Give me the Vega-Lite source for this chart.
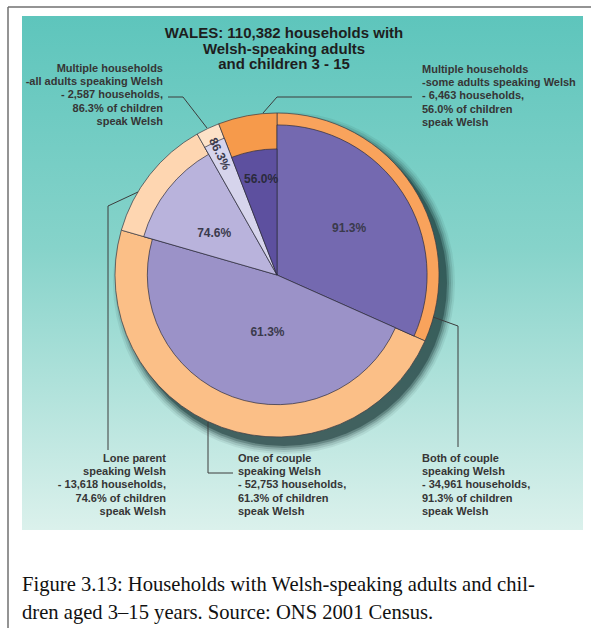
{
  "$schema": "https://vega.github.io/schema/vega-lite/v6.json",
  "width": 561,
  "height": 514,
  "autosize": {"type": "none"},
  "padding": {"left": 22, "top": 16, "right": 8, "bottom": 98},
  "background": "white",
  "datasets": {
    "slices": [
      {"idx": 1, "category": "Both of couple speaking Welsh", "households": 34961, "pct": 91.3, "label": "91.3%"},
      {"idx": 2, "category": "One of couple speaking Welsh", "households": 52753, "pct": 61.3, "label": "61.3%"},
      {"idx": 3, "category": "Lone parent speaking Welsh", "households": 13618, "pct": 74.6, "label": "74.6%"},
      {"idx": 4, "category": "Multiple households - all adults speaking Welsh", "households": 2587, "pct": 86.3, "label": "86.3%"},
      {"idx": 5, "category": "Multiple households - some adults speaking Welsh", "households": 6463, "pct": 56.0, "label": "56.0%"}
    ],
    "heading": [
      {"text": ["WALES: 110,382 households with", "Welsh-speaking adults", "and children 3 - 15"], "x": 7, "y": 249}
    ],
    "caption": [
      {"text": ["Figure 3.13: Households with Welsh-speaking adults and chil-", "dren aged 3–15 years. Source: ONS 2001 Census."], "x": -255, "y": -316}
    ],
    "callouts": [
      {"id": "all", "text": ["Multiple households", "-all adults speaking Welsh", "- 2,587 households,", "86.3% of children", "speak Welsh"], "x": -114, "y": 212},
      {"id": "some", "text": ["Multiple households", "-some adults speaking Welsh", "- 6,463 households,", "56.0% of children", "speak Welsh"], "x": 145, "y": 211},
      {"id": "lone", "text": ["Lone parent", "speaking Welsh", "- 13,618 households,", "74.6% of children ", "speak Welsh"], "x": -111, "y": -178},
      {"id": "one", "text": ["One of couple", "speaking Welsh", "- 52,753 households,", "61.3% of children", "speak Welsh"], "x": -39, "y": -178},
      {"id": "both", "text": ["Both of couple", "speaking Welsh", "- 34,961 households,", "91.3% of children", "speak Welsh"], "x": 145, "y": -178}
    ],
    "leaders": [
      {"id": "all", "step": 1, "x": -109, "y": 178},
      {"id": "all", "step": 2, "x": -94, "y": 178},
      {"id": "all", "step": 3, "x": -70, "y": 147},
      {"id": "some", "step": 1, "x": -14, "y": 162},
      {"id": "some", "step": 2, "x": 0, "y": 178},
      {"id": "some", "step": 3, "x": 135, "y": 178},
      {"id": "lone", "step": 1, "x": -139, "y": 83},
      {"id": "lone", "step": 2, "x": -169, "y": 69},
      {"id": "lone", "step": 3, "x": -169, "y": -175},
      {"id": "one", "step": 1, "x": -69, "y": -147},
      {"id": "one", "step": 2, "x": -69, "y": -198},
      {"id": "one", "step": 3, "x": -44, "y": -198},
      {"id": "both", "step": 1, "x": 156, "y": -42},
      {"id": "both", "step": 2, "x": 181, "y": -51},
      {"id": "both", "step": 3, "x": 181, "y": -172}
    ]
  },
  "data": {"name": "slices"},
  "layer": [
    {
      "data": {"values": [{"panel": "background"}]},
      "mark": {"type": "rect", "color": {"gradient": "linear", "x1": 0, "y1": 0, "x2": 0, "y2": 1, "stops": [{"offset": 0, "color": "#5ec5bc"}, {"offset": 0.45, "color": "#86d3ca"}, {"offset": 1, "color": "#dbf1ec"}]}},
      "encoding": {
        "x": {"datum": -255, "type": "quantitative", "scale": {"domain": [-255, 306], "nice": false, "zero": false}, "axis": null},
        "x2": {"datum": 306},
        "y": {"datum": -255, "type": "quantitative", "scale": {"domain": [-255, 259], "nice": false, "zero": false}, "axis": null},
        "y2": {"datum": 259}
      }
    },
    {
      "data": {"values": [{"edge": "top"}]},
      "mark": {"type": "rule", "color": "#707070", "strokeWidth": 1.5},
      "encoding": {
        "x": {"datum": -269, "type": "quantitative", "scale": {"domain": [-255, 306], "nice": false, "zero": false}, "axis": null},
        "x2": {"datum": 314},
        "y": {"datum": 268, "type": "quantitative", "scale": {"domain": [-255, 259], "nice": false, "zero": false}, "axis": null}
      }
    },
    {
      "data": {"values": [{"edge": "left"}]},
      "mark": {"type": "rule", "color": "#707070", "strokeWidth": 1.5},
      "encoding": {
        "x": {"datum": -269, "type": "quantitative", "scale": {"domain": [-255, 306], "nice": false, "zero": false}, "axis": null},
        "y": {"datum": 268, "type": "quantitative", "scale": {"domain": [-255, 259], "nice": false, "zero": false}, "axis": null},
        "y2": {"datum": -353}
      }
    },
    {
      "data": {"values": [{"shadow": 1}]},
      "mark": {"type": "arc", "theta": 0, "theta2": 6.2832, "radius": 171, "fill": "#163432", "opacity": 0.08, "xOffset": 7, "yOffset": 8},
      "encoding": {
        "x": {"datum": 0, "type": "quantitative", "scale": {"domain": [-255, 306], "nice": false, "zero": false}, "axis": null},
        "y": {"datum": 0, "type": "quantitative", "scale": {"domain": [-255, 259], "nice": false, "zero": false}, "axis": null}
      }
    },
    {
      "data": {"values": [{"shadow": 2}]},
      "mark": {"type": "arc", "theta": 0, "theta2": 6.2832, "radius": 169, "fill": "#163432", "opacity": 0.12, "xOffset": 7, "yOffset": 8},
      "encoding": {
        "x": {"datum": 0, "type": "quantitative", "scale": {"domain": [-255, 306], "nice": false, "zero": false}, "axis": null},
        "y": {"datum": 0, "type": "quantitative", "scale": {"domain": [-255, 259], "nice": false, "zero": false}, "axis": null}
      }
    },
    {
      "data": {"values": [{"shadow": 3}]},
      "mark": {"type": "arc", "theta": 0, "theta2": 6.2832, "radius": 167, "fill": "#163432", "opacity": 0.18, "xOffset": 7, "yOffset": 8},
      "encoding": {
        "x": {"datum": 0, "type": "quantitative", "scale": {"domain": [-255, 306], "nice": false, "zero": false}, "axis": null},
        "y": {"datum": 0, "type": "quantitative", "scale": {"domain": [-255, 259], "nice": false, "zero": false}, "axis": null}
      }
    },
    {
      "data": {"values": [{"shadow": 4}]},
      "mark": {"type": "arc", "theta": 0, "theta2": 6.2832, "radius": 165, "fill": "#163432", "opacity": 0.28, "xOffset": 7, "yOffset": 8},
      "encoding": {
        "x": {"datum": 0, "type": "quantitative", "scale": {"domain": [-255, 306], "nice": false, "zero": false}, "axis": null},
        "y": {"datum": 0, "type": "quantitative", "scale": {"domain": [-255, 259], "nice": false, "zero": false}, "axis": null}
      }
    },
    {
      "data": {"values": [{"shadow": 5}]},
      "mark": {"type": "arc", "theta": 0, "theta2": 6.2832, "radius": 163, "fill": "#163432", "opacity": 0.45, "xOffset": 7, "yOffset": 8},
      "encoding": {
        "x": {"datum": 0, "type": "quantitative", "scale": {"domain": [-255, 306], "nice": false, "zero": false}, "axis": null},
        "y": {"datum": 0, "type": "quantitative", "scale": {"domain": [-255, 259], "nice": false, "zero": false}, "axis": null}
      }
    },
    {
      "transform": [{"stack": "households", "groupby": [], "sort": [{"field": "idx", "order": "ascending"}], "as": ["h0", "h1"]}],
      "mark": {"type": "arc", "radius": 162, "stroke": "#3a3a44", "strokeWidth": 0.7},
      "encoding": {
        "x": {"datum": 0, "type": "quantitative", "scale": {"domain": [-255, 306], "nice": false, "zero": false}, "axis": null},
        "y": {"datum": 0, "type": "quantitative", "scale": {"domain": [-255, 259], "nice": false, "zero": false}, "axis": null},
        "theta": {"field": "h0", "type": "quantitative"},
        "theta2": {"field": "h1"},
        "fill": {"field": "category", "type": "nominal", "legend": null, "scale": {"domain": ["Both of couple speaking Welsh", "One of couple speaking Welsh", "Lone parent speaking Welsh", "Multiple households - all adults speaking Welsh", "Multiple households - some adults speaking Welsh"], "range": ["#f9a35c", "#fbbf87", "#fed6b1", "#fde2c8", "#f69a4b"]}}
      }
    },
    {
      "transform": [{"stack": "households", "groupby": [], "sort": [{"field": "idx", "order": "ascending"}], "as": ["h0", "h1"]}],
      "mark": {"type": "arc", "radius2": 0, "stroke": "#2c2c3c", "strokeWidth": 0.7},
      "encoding": {
        "x": {"datum": 0, "type": "quantitative", "scale": {"domain": [-255, 306], "nice": false, "zero": false}, "axis": null},
        "y": {"datum": 0, "type": "quantitative", "scale": {"domain": [-255, 259], "nice": false, "zero": false}, "axis": null},
        "theta": {"field": "h0", "type": "quantitative"},
        "theta2": {"field": "h1"},
        "radius": {"field": "pct", "type": "quantitative", "scale": {"type": "linear", "zero": false, "domain": [0, 100], "range": [88, 156]}},
        "color": {"field": "category", "type": "nominal", "legend": null, "scale": {"domain": ["Both of couple speaking Welsh", "One of couple speaking Welsh", "Lone parent speaking Welsh", "Multiple households - all adults speaking Welsh", "Multiple households - some adults speaking Welsh"], "range": ["#7469b0", "#9b92c8", "#b9b3dc", "#d6d4ec", "#5d509f"]}}
      }
    },
    {
      "mark": {"type": "text", "radius": 86, "font": "Liberation Sans", "fontSize": 12, "fontWeight": "bold", "color": "#3a3a4c", "align": "center", "baseline": "middle"},
      "encoding": {
        "x": {"datum": 0, "type": "quantitative", "scale": {"domain": [-255, 306], "nice": false, "zero": false}, "axis": null},
        "y": {"datum": 0, "type": "quantitative", "scale": {"domain": [-255, 259], "nice": false, "zero": false}, "axis": null},
        "theta": {"field": "households", "type": "quantitative", "stack": true},
        "order": {"field": "idx", "type": "quantitative"},
        "text": {"condition": {"test": "datum.idx === 1", "field": "label"}, "value": ""}
      }
    },
    {
      "mark": {"type": "text", "radius": 80, "dy": 8, "font": "Liberation Sans", "fontSize": 12, "fontWeight": "bold", "color": "#3a3a4c", "align": "center", "baseline": "middle"},
      "encoding": {
        "x": {"datum": 0, "type": "quantitative", "scale": {"domain": [-255, 306], "nice": false, "zero": false}, "axis": null},
        "y": {"datum": 0, "type": "quantitative", "scale": {"domain": [-255, 259], "nice": false, "zero": false}, "axis": null},
        "theta": {"field": "households", "type": "quantitative", "stack": true},
        "order": {"field": "idx", "type": "quantitative"},
        "text": {"condition": {"test": "datum.idx === 3", "field": "label"}, "value": ""}
      }
    },
    {
      "mark": {"type": "text", "radius": 57, "dx": 10, "dy": 3, "font": "Liberation Sans", "fontSize": 12, "fontWeight": "bold", "color": "#3a3a4c", "align": "center", "baseline": "middle"},
      "encoding": {
        "x": {"datum": 0, "type": "quantitative", "scale": {"domain": [-255, 306], "nice": false, "zero": false}, "axis": null},
        "y": {"datum": 0, "type": "quantitative", "scale": {"domain": [-255, 259], "nice": false, "zero": false}, "axis": null},
        "theta": {"field": "households", "type": "quantitative", "stack": true},
        "order": {"field": "idx", "type": "quantitative"},
        "text": {"condition": {"test": "datum.idx === 2", "field": "label"}, "value": ""}
      }
    },
    {
      "mark": {"type": "text", "radius": 98, "dx": 2, "font": "Liberation Sans", "fontSize": 12, "fontWeight": "bold", "color": "#2a2a3c", "align": "center", "baseline": "middle"},
      "encoding": {
        "x": {"datum": 0, "type": "quantitative", "scale": {"domain": [-255, 306], "nice": false, "zero": false}, "axis": null},
        "y": {"datum": 0, "type": "quantitative", "scale": {"domain": [-255, 259], "nice": false, "zero": false}, "axis": null},
        "theta": {"field": "households", "type": "quantitative", "stack": true},
        "order": {"field": "idx", "type": "quantitative"},
        "text": {"condition": {"test": "datum.idx === 5", "field": "label"}, "value": ""}
      }
    },
    {
      "mark": {"type": "text", "radius": 134, "angle": 64, "font": "Liberation Sans", "fontSize": 12, "fontWeight": "bold", "color": "#3a3a4c", "align": "center", "baseline": "middle"},
      "encoding": {
        "x": {"datum": 0, "type": "quantitative", "scale": {"domain": [-255, 306], "nice": false, "zero": false}, "axis": null},
        "y": {"datum": 0, "type": "quantitative", "scale": {"domain": [-255, 259], "nice": false, "zero": false}, "axis": null},
        "theta": {"field": "households", "type": "quantitative", "stack": true},
        "order": {"field": "idx", "type": "quantitative"},
        "text": {"condition": {"test": "datum.idx === 4", "field": "label"}, "value": ""}
      }
    },
    {
      "data": {"name": "leaders"},
      "mark": {"type": "line", "color": "#3c3c3c", "strokeWidth": 1},
      "encoding": {
        "x": {"field": "x", "type": "quantitative", "scale": {"domain": [-255, 306], "nice": false, "zero": false}, "axis": null},
        "y": {"field": "y", "type": "quantitative", "scale": {"domain": [-255, 259], "nice": false, "zero": false}, "axis": null},
        "detail": {"field": "id", "type": "nominal"},
        "order": {"field": "step", "type": "quantitative"}
      }
    },
    {
      "data": {"name": "heading"},
      "mark": {"type": "text", "align": "center", "baseline": "top", "font": "Liberation Sans", "fontSize": 15, "fontWeight": "bold", "color": "#1e1e1e", "lineHeight": 15.5},
      "encoding": {
        "x": {"field": "x", "type": "quantitative", "scale": {"domain": [-255, 306], "nice": false, "zero": false}, "axis": null},
        "y": {"field": "y", "type": "quantitative", "scale": {"domain": [-255, 259], "nice": false, "zero": false}, "axis": null},
        "text": {"field": "text"}
      }
    },
    {
      "data": {"name": "caption"},
      "mark": {"type": "text", "align": "left", "baseline": "alphabetic", "font": "Liberation Serif", "fontSize": 20.6, "color": "#111111", "lineHeight": 27.5},
      "encoding": {
        "x": {"field": "x", "type": "quantitative", "scale": {"domain": [-255, 306], "nice": false, "zero": false}, "axis": null},
        "y": {"field": "y", "type": "quantitative", "scale": {"domain": [-255, 259], "nice": false, "zero": false}, "axis": null},
        "text": {"field": "text"}
      }
    },
    {
      "data": {"name": "callouts"},
      "transform": [{"filter": {"field": "id", "oneOf": ["all", "lone"]}}],
      "mark": {"type": "text", "align": "right", "baseline": "top", "font": "Liberation Sans", "fontSize": 11, "fontWeight": "bold", "color": "#363636", "lineHeight": 13.2},
      "encoding": {
        "x": {"field": "x", "type": "quantitative", "scale": {"domain": [-255, 306], "nice": false, "zero": false}, "axis": null},
        "y": {"field": "y", "type": "quantitative", "scale": {"domain": [-255, 259], "nice": false, "zero": false}, "axis": null},
        "text": {"field": "text"}
      }
    },
    {
      "data": {"name": "callouts"},
      "transform": [{"filter": {"field": "id", "oneOf": ["some", "one", "both"]}}],
      "mark": {"type": "text", "align": "left", "baseline": "top", "font": "Liberation Sans", "fontSize": 11, "fontWeight": "bold", "color": "#363636", "lineHeight": 13.2},
      "encoding": {
        "x": {"field": "x", "type": "quantitative", "scale": {"domain": [-255, 306], "nice": false, "zero": false}, "axis": null},
        "y": {"field": "y", "type": "quantitative", "scale": {"domain": [-255, 259], "nice": false, "zero": false}, "axis": null},
        "text": {"field": "text"}
      }
    }
  ],
  "config": {"view": {"stroke": null}}
}
